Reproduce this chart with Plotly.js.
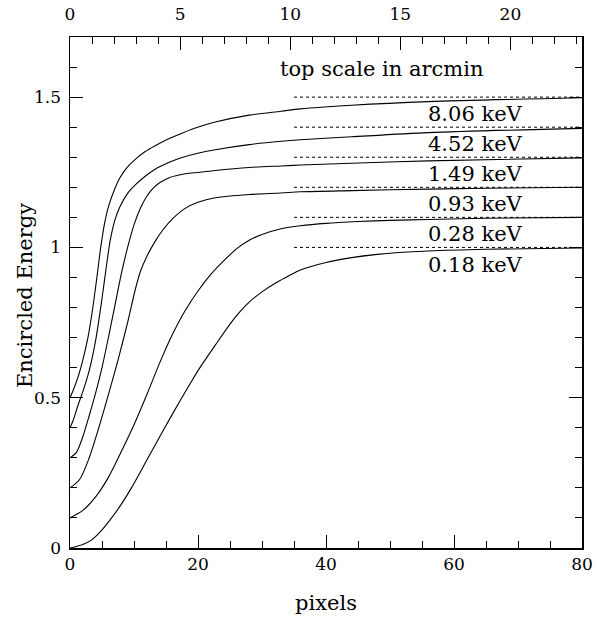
<!DOCTYPE html>
<html>
<head>
<meta charset="utf-8">
<script src="https://cdn.plot.ly/plotly-3.0.1.min.js"></script>
<style>html,body{margin:0;padding:0;background:#fff;}#chart{width:595px;height:617px;}</style>
</head>
<body>
<div id="chart"></div>
<script>
// Energies (labels)
const energies = ["8.06 keV", "4.52 keV", "1.49 keV", "0.93 keV", "0.28 keV", "0.18 keV"];

// Encircled energy curves (x in pixels, y offset by 0.1 per curve as in the figure)
const x806 = [0,0.5,1.2,2,2.8,3.5,4.2,4.8,5.4,6,7,7.8,9,10.2,11.7,13.3,15.5,17.5,20.3,22.7,28,33,36,44,56,80];
const y806 = [0.5,0.525,0.565,0.625,0.7,0.79,0.9,1.0,1.08,1.135,1.195,1.232,1.268,1.293,1.318,1.338,1.362,1.38,1.402,1.417,1.44,1.453,1.461,1.473,1.485,1.498];

const x452 = [0,0.5,1.25,2,3,4,5,5.7,6.3,7,7.8,9,10.2,11.7,13.3,15.5,17.5,20.3,22.7,28,33,36,44,56,80];
const y452 = [0.4,0.425,0.475,0.52,0.59,0.69,0.83,0.94,1.025,1.09,1.135,1.18,1.208,1.236,1.26,1.283,1.299,1.315,1.325,1.342,1.353,1.358,1.368,1.382,1.396];

const x149 = [0,1,2,3,4,5,6,7,8,9,10,11,12,13,14,15.5,18,20.3,22.7,28,33,36,44,56,80];
const y149 = [0.3,0.318,0.37,0.44,0.515,0.6,0.7,0.805,0.91,1.0,1.075,1.13,1.17,1.197,1.215,1.232,1.245,1.25,1.256,1.266,1.271,1.274,1.28,1.288,1.298];

const x093 = [0,1.5,3,4.5,6,7.5,9,10.2,11,12,13.3,14.5,16,18,20,22.7,28,33,36,44,56,65,80];
const y093 = [0.2,0.228,0.3,0.4,0.51,0.625,0.75,0.86,0.92,0.97,1.02,1.058,1.095,1.13,1.15,1.165,1.176,1.181,1.185,1.189,1.194,1.197,1.2];

const x028 = [0,2,4,6,8,10,12,14,16,18,20,22,24,26,28,30,33,36,40,45,50,56,65,80];
const y028 = [0.1,0.125,0.17,0.235,0.32,0.41,0.51,0.615,0.71,0.79,0.855,0.91,0.955,0.995,1.024,1.043,1.062,1.072,1.08,1.086,1.09,1.093,1.097,1.1];

const x018 = [0,2,3.4,5,6.5,8,9.6,12.2,14.8,17.2,19,20.3,22.7,25,26.6,28,30,32,34,36,40,44,48,56,65,80];
const y018 = [0,0.012,0.027,0.06,0.1,0.145,0.2,0.3,0.4,0.49,0.555,0.6,0.675,0.745,0.787,0.818,0.852,0.88,0.903,0.925,0.95,0.966,0.977,0.988,0.994,0.998];

// Asymptote reference levels (dotted)
const refLevels = [1.5, 1.4, 1.3, 1.2, 1.1, 1.0];
const refStart = 35, refEnd = 80;
// Label positions (data units)
const labelY = [1.443, 1.343, 1.243, 1.143, 1.043, 0.943];
const labelX = 63.4;

// Axes
const xRange = [0, 80];
const yRange = [0, 1.7];
const arcminRange = [0, 23.25]; // top scale (arcmin) spanning 0-80 pixels
const xTitle = "pixels";
const yTitle = "Encircled Energy";
const noteText = "top scale in arcmin";

const curveX = [x806, x452, x149, x093, x028, x018];
const curveY = [y806, y452, y149, y093, y028, y018];

const traces = [];
for (let i = 0; i < curveX.length; i++) {
  traces.push({
    x: curveX[i], y: curveY[i], type: 'scatter', mode: 'lines',
    line: {color: '#000', width: 1.1, shape: 'spline', smoothing: 0.8},
    hoverinfo: 'skip', showlegend: false
  });
}
refLevels.forEach(function (lv) {
  traces.push({
    x: [refStart, refEnd], y: [lv, lv], type: 'scatter', mode: 'lines',
    line: {color: '#000', width: 1, dash: 'dot'},
    hoverinfo: 'skip', showlegend: false
  });
});
// invisible helper trace so the top (arcmin) and right axes are drawn
traces.push({
  x: arcminRange, y: yRange, xaxis: 'x2', yaxis: 'y2', type: 'scatter', mode: 'markers',
  marker: {opacity: 0}, hoverinfo: 'skip', showlegend: false
});

const fontFam = 'DejaVu Serif, serif';
const annotations = energies.map(function (t, i) {
  return {x: labelX, y: labelY[i], xref: 'x', yref: 'y', text: t, showarrow: false,
          xanchor: 'center', yanchor: 'middle', font: {family: fontFam, size: 21, color: '#000'}};
});
annotations.push({x: 48.6, y: 1.592, xref: 'x', yref: 'y', text: noteText, showarrow: false,
  xanchor: 'center', yanchor: 'middle', font: {family: fontFam, size: 21, color: '#000'}});
// y-axis title
annotations.push({x: -0.088, y: 0.495, xref: 'paper', yref: 'paper', text: yTitle, showarrow: false,
  textangle: -90, xanchor: 'center', yanchor: 'middle', font: {family: fontFam, size: 21, color: '#000'}});

const axCommon = {
  showgrid: false, zeroline: false, ticks: 'inside', tickcolor: '#000', tickwidth: 1,
  showline: true, linecolor: '#000', linewidth: 1.5,
  tickfont: {family: fontFam, size: 17, color: '#000'}
};

const layout = {
  width: 595, height: 617,
  margin: {l: 70, r: 13, t: 37, b: 69},
  paper_bgcolor: '#fff', plot_bgcolor: '#fff',
  showlegend: false,
  font: {family: fontFam, color: '#000'},
  xaxis: Object.assign({}, axCommon, {
    range: xRange, dtick: 20, tick0: 0, ticklen: 13, mirror: false,
    minor: {dtick: 5, tick0: 0, ticklen: 7, ticks: 'inside', tickcolor: '#000', showgrid: false},
    title: {text: xTitle, font: {family: fontFam, size: 21, color: '#000'}, standoff: 22}
  }),
  xaxis2: Object.assign({}, axCommon, {
    range: arcminRange, dtick: 5, tick0: 0, ticklen: 13, side: 'top', overlaying: 'x', anchor: 'y',
    ticklabelstandoff: 9,
    minor: {dtick: 1, tick0: 0, ticklen: 7, ticks: 'inside', tickcolor: '#000', showgrid: false}
  }),
  yaxis: Object.assign({}, axCommon, {
    range: yRange, dtick: 0.5, tick0: 0, ticklen: 13, mirror: false, ticklabelstandoff: 4,
    minor: {dtick: 0.1, tick0: 0, ticklen: 7, ticks: 'inside', tickcolor: '#000', showgrid: false}
  }),
  yaxis2: Object.assign({}, axCommon, {
    range: yRange, dtick: 0.5, tick0: 0, ticklen: 13, side: 'right', overlaying: 'y', anchor: 'x',
    showticklabels: false,
    minor: {dtick: 0.1, tick0: 0, ticklen: 7, ticks: 'inside', tickcolor: '#000', showgrid: false}
  }),
  annotations: annotations
};

Plotly.newPlot('chart', traces, layout, {displayModeBar: false, staticPlot: true});
</script>
</body>
</html>
